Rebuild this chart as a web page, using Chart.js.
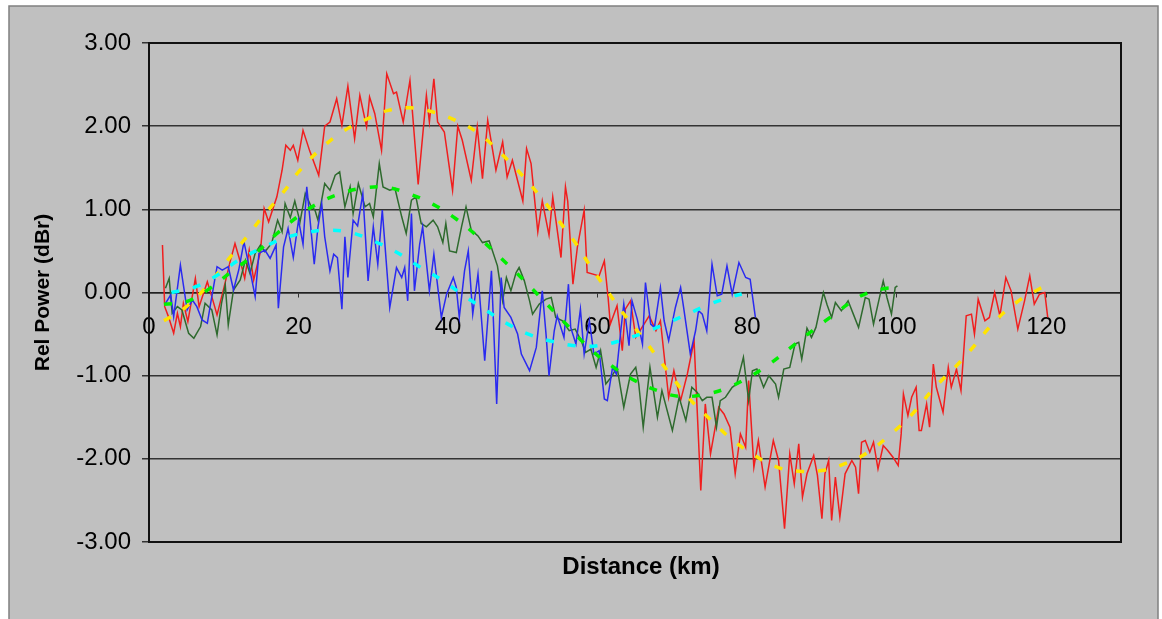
<!DOCTYPE html>
<html>
<head>
<meta charset="utf-8">
<script src="https://cdn.jsdelivr.net/npm/chart.js@4.4.1/dist/chart.umd.min.js"></script>
<style>
  html, body { margin: 0; padding: 0; background: #fff; }
  canvas { display: block; }
</style>
</head>
<body>
<canvas id="myChart" width="1162" height="619"></canvas>
<script>
// measured traces (km, dBr)
const redKm = [1.8, 2.1, 2.6, 3.3, 3.8, 4.2, 4.6, 5.2, 6.2, 6.7, 7.8, 8.4, 9.1, 10.0, 10.9, 11.5, 12.4, 12.8, 13.4, 14.0,
  14.9, 15.4, 16.0, 17.1, 17.8, 18.3, 18.9, 19.3, 19.9, 20.6, 21.5, 22.7, 23.5, 24.2, 25.1, 25.8, 26.6, 27.5, 28.2, 29.1,
  29.5, 30.2, 31.1, 31.8, 32.7, 33.1, 34.0, 34.9, 36.0, 37.1, 37.5, 38.1, 38.6, 39.5, 40.6, 41.3, 41.9, 43.1, 43.9, 44.6,
  45.3, 46.4, 47.3, 47.9, 48.6, 50.0, 50.5, 51.1, 52.0, 52.6, 53.5, 54.0, 55.1, 55.7, 56.0, 56.7, 57.3, 58.2, 58.6, 60.2,
  60.9, 61.4, 61.7, 62.6, 63.3, 63.7, 64.4, 65.1, 66.9, 67.8, 68.4, 69.5, 70.2, 71.1, 72.0, 72.9, 73.8, 74.4, 75.1, 76.2,
  76.9, 77.7, 78.4, 79.1, 79.8, 80.2, 80.9, 81.5, 82.4, 83.5, 84.2, 85.0, 85.7, 86.3, 86.9, 87.4, 88.0, 88.9, 89.4, 90.0,
  90.4, 90.9, 91.3, 91.8, 92.4, 93.1, 94.0, 94.5, 94.9, 95.3, 95.8, 96.4, 96.9, 97.5, 98.2, 98.8, 99.5, 100.2, 100.6, 100.9,
  101.5, 102.0, 102.6, 103.0, 103.3, 104.0, 104.4, 104.9, 105.3, 106.2, 106.9, 107.3, 108.0, 108.6, 109.3, 110.0, 110.4, 110.9, 111.8, 112.4,
  113.1, 113.8, 114.6, 115.3, 116.2, 117.1, 117.8, 118.4, 119.1, 119.8, 120.2];
const redDb = [0.57, -0.17, -0.29, -0.49, -0.25, -0.41, -0.13, -0.35, 0.17, -0.17, 0.13, -0.05, -0.27, 0.05, 0.39, 0.59, 0.31, 0.17, 0.51, 0.15,
  0.49, 1.01, 0.85, 1.15, 1.47, 1.77, 1.71, 1.77, 1.59, 1.95, 1.70, 1.41, 2.00, 2.05, 2.33, 2.01, 2.48, 1.85, 2.37, 1.99,
  2.35, 2.15, 1.71, 2.63, 2.39, 2.41, 2.05, 2.55, 1.30, 2.37, 2.05, 2.57, 2.05, 1.93, 1.23, 2.00, 1.83, 1.35, 1.99, 1.37,
  2.07, 1.47, 1.81, 1.39, 1.59, 1.10, 1.73, 1.55, 0.73, 1.10, 0.69, 1.15, 0.42, 1.27, 1.10, 0.10, 0.55, 0.99, 0.24, 0.20,
  0.38, -0.06, -0.38, -0.16, -0.70, -0.20, -0.10, -0.54, -0.28, -0.46, -0.34, -1.26, -0.94, -1.30, -0.98, -0.58, -2.38, -1.34, -1.94, -1.38,
  -1.46, -1.62, -2.18, -1.70, -1.86, -1.06, -2.10, -1.78, -2.34, -1.78, -2.02, -2.84, -1.94, -2.30, -1.82, -2.46, -2.18, -1.96, -2.20, -2.72,
  -2.18, -2.02, -2.74, -2.22, -2.70, -2.18, -2.02, -2.10, -2.42, -1.80, -1.78, -1.92, -1.80, -2.12, -1.84, -1.90, -1.98, -2.08, -1.70, -1.22,
  -1.48, -1.26, -1.14, -1.66, -1.66, -1.34, -1.62, -0.86, -1.14, -1.44, -0.90, -1.14, -0.92, -1.18, -0.28, -0.26, -0.50, -0.08, -0.34, -0.30,
  0.00, -0.28, 0.18, 0.02, -0.44, -0.10, 0.20, -0.14, -0.02, 0.00, -0.30];

const greenKm = [2.2, 2.7, 3.1, 3.8, 4.4, 5.3, 6.0, 6.9, 7.5, 8.4, 9.1, 9.7, 10.2, 10.6, 11.3, 12.2, 12.9, 13.5, 14.2, 14.9,
  15.5, 16.4, 17.2, 17.8, 18.2, 18.9, 19.5, 20.2, 20.9, 21.6, 22.2, 22.6, 23.5, 24.2, 24.9, 25.5, 26.2, 26.9, 27.3, 28.0,
  28.9, 29.5, 30.0, 30.8, 31.3, 32.2, 32.9, 33.8, 34.4, 35.1, 35.7, 36.4, 37.1, 38.0, 38.6, 39.3, 39.7, 40.2, 41.1, 41.8,
  42.4, 43.1, 44.0, 44.6, 45.5, 46.6, 47.3, 47.8, 48.4, 49.1, 49.5, 50.2, 50.9, 51.3, 52.2, 53.1, 53.8, 54.4, 55.3, 56.2,
  57.0, 57.8, 58.4, 59.1, 59.8, 60.4, 61.1, 61.8, 62.6, 63.5, 64.4, 65.1, 65.5, 66.1, 67.0, 68.0, 68.6, 70.0, 70.9, 71.8,
  72.6, 73.3, 74.0, 74.6, 75.3, 75.9, 76.4, 77.1, 78.0, 78.6, 79.5, 80.2, 80.7, 81.3, 82.2, 82.9, 83.8, 84.2, 84.9, 85.7,
  86.4, 86.9, 87.3, 88.0, 88.6, 89.2, 90.2, 90.7, 91.3, 91.8, 92.6, 93.5, 94.2, 94.9, 95.8, 96.3, 96.9, 97.8, 98.2, 98.7,
  99.3, 99.8, 100.1];
const greenDb = [0.05, 0.17, -0.25, -0.17, -0.21, -0.49, -0.55, -0.41, -0.13, -0.21, -0.51, -0.13, 0.09, -0.39, 0.03, 0.15, 0.39, 0.23, 0.47, 0.57,
  0.49, 0.59, 0.87, 0.73, 1.07, 0.90, 1.10, 0.85, 1.19, 1.05, 0.99, 0.87, 1.31, 1.23, 1.41, 1.45, 1.03, 1.27, 0.95, 1.31,
  1.03, 1.07, 0.91, 1.55, 1.27, 1.23, 1.25, 0.91, 0.71, 1.11, 1.15, 0.83, 0.79, 0.87, 0.79, 0.60, 0.83, 0.50, 0.48, 0.79,
  1.03, 0.75, 0.68, 0.60, 0.62, 0.32, -0.10, 0.18, 0.02, 0.24, 0.30, 0.14, -0.10, -0.26, -0.14, -0.08, -0.06, -0.30, -0.34, -0.46,
  -0.44, -0.58, -0.72, -0.68, -0.90, -0.70, -1.10, -1.02, -0.90, -1.38, -0.98, -0.90, -1.10, -1.62, -0.90, -1.50, -1.18, -1.66, -1.26, -1.54,
  -1.14, -1.20, -1.30, -1.26, -1.26, -1.62, -1.30, -1.26, -1.14, -1.10, -0.78, -1.30, -0.94, -0.92, -1.14, -1.00, -1.10, -1.26, -0.92, -0.90,
  -0.62, -0.60, -0.80, -0.43, -0.54, -0.42, 0.00, -0.15, -0.30, -0.12, -0.22, -0.10, -0.26, -0.42, -0.06, -0.08, -0.38, -0.02, 0.14, -0.06,
  -0.26, 0.06, 0.08];

const blueKm = [2.2, 2.9, 3.3, 4.2, 5.1, 5.8, 6.4, 7.1, 7.8, 8.4, 9.1, 9.8, 10.6, 11.3, 12.0, 12.7, 13.5, 14.2, 14.7, 15.5,
  16.2, 17.0, 17.3, 18.0, 18.6, 19.3, 20.0, 20.6, 21.1, 21.5, 22.1, 22.6, 23.1, 23.5, 24.2, 24.7, 25.2, 25.8, 26.2, 26.6,
  27.3, 27.9, 28.6, 29.3, 30.0, 30.6, 31.2, 32.2, 33.1, 33.8, 34.2, 34.6, 35.1, 35.5, 36.2, 36.6, 37.5, 38.1, 39.1, 39.8,
  40.7, 41.1, 41.5, 42.2, 42.7, 43.3, 44.0, 44.9, 45.8, 46.5, 47.1, 47.5, 48.4, 49.3, 49.8, 50.9, 51.8, 52.6, 53.1, 53.5,
  54.2, 54.6, 55.5, 56.1, 56.4, 57.1, 57.7, 58.2, 58.9, 59.5, 60.2, 60.9, 61.3, 62.0, 62.5, 63.1, 63.5, 64.2, 64.6, 65.3,
  66.0, 66.4, 67.1, 67.6, 68.4, 68.9, 69.5, 70.4, 71.1, 71.5, 72.4, 73.1, 73.5, 74.0, 74.6, 75.3, 76.0, 76.6, 77.3, 78.0,
  78.9, 79.8, 80.4, 81.1];
const blueDb = [-0.13, -0.03, -0.29, 0.33, -0.21, -0.09, -0.17, -0.33, -0.37, -0.05, 0.31, 0.27, 0.31, 0.03, 0.27, 0.61, 0.27, -0.05, 0.47, 0.51,
  0.41, 0.57, -0.19, 0.55, 0.77, 0.42, 0.87, 0.58, 1.27, 0.91, 0.34, 0.79, 1.07, 0.67, 0.26, 0.46, 0.42, -0.20, 0.67, 0.18,
  0.87, 0.80, 1.19, 0.14, 0.79, 0.34, 0.99, -0.18, 0.30, 0.18, 0.30, -0.10, 0.95, 0.02, 0.58, 0.79, 0.02, 0.46, -0.30, -0.02,
  0.18, 0.06, -0.30, 0.26, 0.50, -0.26, 0.22, -0.82, 0.26, -1.34, 0.18, -0.18, -0.30, -0.50, -0.74, -0.94, -0.66, 0.02, -0.50, -1.00,
  -0.46, -0.28, -0.54, 0.10, -0.42, -0.62, -0.20, -0.74, -0.34, -0.74, -0.70, -1.28, -1.30, -0.90, -0.98, -0.46, -0.14, -0.64, -0.10, -0.32,
  -0.62, 0.12, -0.38, -0.42, 0.06, -0.34, -0.58, -0.18, 0.06, -0.18, -0.74, -0.46, -0.22, -0.26, -0.46, 0.34, -0.04, -0.02, 0.32, -0.02,
  0.36, 0.18, 0.16, -0.30];

// fitted curves
const yellowKm = [2, 5, 8, 10, 13, 15, 18, 20, 23, 26, 29, 32, 35, 38, 41, 44, 47, 50, 53, 55, 57, 59, 61, 63, 66, 68, 70, 72, 75, 78,
  81, 84, 87, 90, 93, 96, 99, 102, 105, 108, 110, 113, 116, 119, 120];
const yellowDb = [-0.34, -0.17, 0.10, 0.33, 0.66, 0.89, 1.21, 1.45, 1.73, 1.94, 2.08, 2.19, 2.22, 2.17, 2.07, 1.92, 1.68, 1.40, 1.08, 0.84,
  0.60, 0.32, 0.06, -0.20, -0.54, -0.78, -1.02, -1.25, -1.52, -1.77, -1.96, -2.10, -2.15, -2.14, -2.06, -1.93, -1.72, -1.47, -1.15, -0.88,
  -0.68, -0.36, -0.12, 0.04, 0.08];
const limeKm = [2, 5, 8, 11, 14, 17, 20, 23, 26, 29, 32, 35, 38, 41, 44, 47, 50, 53, 56, 59, 62, 65, 68, 71, 74, 77, 80, 83, 86, 89,
  92, 95, 98, 100];
const limeDb = [-0.14, -0.11, 0.04, 0.25, 0.45, 0.70, 0.92, 1.09, 1.20, 1.26, 1.26, 1.18, 1.06, 0.89, 0.67, 0.42, 0.16, -0.12, -0.40, -0.68,
  -0.89, -1.06, -1.18, -1.25, -1.23, -1.16, -1.03, -0.86, -0.65, -0.44, -0.24, -0.05, 0.04, 0.06];
const cyanKm = [3, 6, 9, 12, 15, 18, 21, 24, 27, 30, 33, 36, 39, 42, 45, 48, 51, 54, 57, 60, 63, 66, 69, 72, 75, 78, 80];
const cyanDb = [0.00, 0.06, 0.20, 0.39, 0.53, 0.65, 0.72, 0.75, 0.72, 0.62, 0.49, 0.32, 0.16, -0.03, -0.21, -0.38, -0.51, -0.59, -0.64, -0.64,
  -0.58, -0.49, -0.38, -0.26, -0.14, -0.05, 0.00];

const xTicks = [0, 20, 40, 60, 80, 100, 120];

const FONT = "'Liberation Sans', Arial, sans-serif";

let pts = function(xs, ys){
    return xs.map(function(x, i){ return {x: x, y: ys[i]}; });
}

let noisy = function(xs, ys, color, order){
    return {data: pts(xs, ys), borderColor: color, borderWidth: 1.5, pointRadius: 0, tension: 0, order: order};
}
let fit = function(xs, ys, color, order){
    return {data: pts(xs, ys), borderColor: color, borderWidth: 3.5, borderDash: [8, 14], pointRadius: 0, tension: 0.4, order: order};
}

// grey panel, plot frame and x title
const framePlugin = {
    id: 'frame',
    beforeDraw: function(chart){
        const ctx = chart.ctx;
        ctx.save();
        ctx.fillStyle = '#ffffff';
        ctx.fillRect(0, 0, chart.width, chart.height);
        ctx.fillStyle = '#c0c0c0';
        ctx.fillRect(9, 6, 1149, 620);
        ctx.strokeStyle = '#808080';
        ctx.lineWidth = 1.5;
        ctx.strokeRect(9, 6, 1149, 620);
        ctx.restore();
    },
    afterDraw: function(chart){
        const ctx = chart.ctx;
        const a = chart.chartArea;
        ctx.save();
        ctx.strokeStyle = '#111';
        ctx.lineWidth = 2;
        ctx.strokeRect(a.left, a.top, a.right - a.left, a.bottom - a.top);
        ctx.fillStyle = '#000';
        ctx.font = 'bold 24px ' + FONT;
        ctx.textAlign = 'center';
        ctx.textBaseline = 'middle';
        ctx.fillText('Distance (km)', (a.left + a.right) / 2 + 6, 567);
        ctx.restore();
    }
};

var ctx = document.getElementById('myChart').getContext('2d');
var chart = new Chart(ctx, {
    type: 'line',
    data: {
        datasets: [
            noisy(redKm, redDb, '#f01e1e', 6),
            noisy(greenKm, greenDb, '#2e6a2e', 5),
            noisy(blueKm, blueDb, '#2a2af0', 4),
            fit(yellowKm, yellowDb, '#ffe400', 3),
            fit(limeKm, limeDb, '#00f000', 2),
            fit(cyanKm, cyanDb, '#00ffff', 1)
        ]
    },
    options: {
        responsive: false,
        animation: false,
        layout: { padding: { left: 10, right: 41, top: 43, bottom: 77 } },
        plugins: { legend: { display: false }, tooltip: { enabled: false } },
        scales: {
            x: {
                type: 'linear',
                min: 0,
                max: 130,
                position: { y: 0 },
                afterBuildTicks: function(scale){
                    scale.ticks = xTicks.map(function(v){ return {value: v}; });
                },
                ticks: {
                    color: '#000',
                    font: { family: FONT, size: 24 },
                    padding: 16,
                    maxRotation: 0,
                    autoSkip: false
                },
                grid: { drawOnChartArea: false, drawTicks: true, tickLength: 4, color: '#333' },
                border: { display: true, color: '#222', width: 1.5 }
            },
            y: {
                min: -3,
                max: 3,
                afterFit: function(scale){ scale.width = 139; },
                ticks: {
                    stepSize: 1,
                    color: '#000',
                    font: { family: FONT, size: 24 },
                    padding: 11,
                    callback: function(v){ return v.toFixed(2); }
                },
                grid: { color: '#333', lineWidth: 1.5, tickLength: 7 },
                border: { display: true, color: '#111', width: 2 },
                title: {
                    display: true,
                    text: 'Rel Power (dBr)',
                    color: '#000',
                    font: { family: FONT, size: 21, weight: 'bold' },
                    padding: { top: 21, bottom: 0 }
                }
            }
        }
    },
    plugins: [framePlugin]
});
</script>
</body>
</html>
